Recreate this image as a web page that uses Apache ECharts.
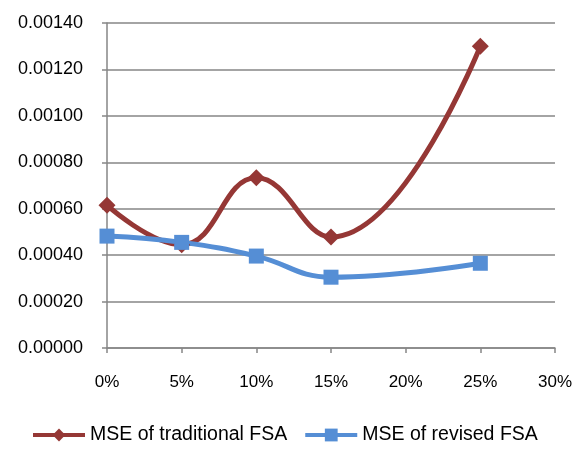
<!DOCTYPE html>
<html>
<head>
<meta charset="utf-8">
<script src="https://cdn.jsdelivr.net/npm/echarts@6/dist/echarts.min.js"></script>
<style>
  html, body { margin: 0; padding: 0; background: #fff; }
  #chart { width: 575px; height: 454px; }
</style>
</head>
<body>
<div id="chart"></div>
<script>
const xValues = [0, 5, 10, 15, 25];
const traditionalFsa = [0.000615, 0.000445, 0.000733, 0.000478, 0.0013];
const revisedFsa = [0.000482, 0.000455, 0.000396, 0.000305, 0.000365];
const seriesNames = ['MSE of traditional FSA', 'MSE of revised FSA'];

const font = 'Liberation Sans, Arial, sans-serif';
const axisGrey = '#868686';

const chart = echarts.init(document.getElementById('chart'));
chart.setOption({
    animation: false,
    grid: { left: 107, top: 23, right: 18, bottom: 106 },
    xAxis: {
        type: 'value',
        min: 0, max: 30, interval: 5,
        axisLine: { lineStyle: { color: axisGrey, width: 1.5 } },
        axisTick: { show: true, length: 5, lineStyle: { color: axisGrey, width: 1.5 } },
        splitLine: { show: false },
        axisLabel: { color: '#000', fontFamily: font, fontSize: 17, margin: 26, formatter: v => v + '%' }
    },
    yAxis: {
        type: 'value',
        min: 0, max: 0.0014, interval: 0.0002,
        axisLine: { show: true, lineStyle: { color: axisGrey, width: 1.5 } },
        axisTick: { show: true, length: 5, lineStyle: { color: axisGrey, width: 1.5 } },
        splitLine: { lineStyle: { color: axisGrey, width: 1.5 } },
        axisLabel: { color: '#000', fontFamily: font, fontSize: 18, margin: 24, formatter: v => v.toFixed(5) }
    },
    legend: {
        left: 26, bottom: 4,
        itemWidth: 52, itemHeight: 16, itemGap: 16,
        lineStyle: { width: 4 },
        textStyle: { color: '#000', fontFamily: font, fontSize: 19.5 },
        data: seriesNames
    },
    series: [
        {
            name: seriesNames[0],
            type: 'line',
            smooth: 0.45,
            symbol: 'diamond',
            symbolSize: 17,
            data: xValues.map((x, i) => [x, traditionalFsa[i]]),
            lineStyle: { color: '#953735', width: 5 },
            itemStyle: { color: '#953735' }
        },
        {
            name: seriesNames[1],
            type: 'line',
            smooth: 0.45,
            symbol: 'rect',
            symbolSize: 15,
            data: xValues.map((x, i) => [x, revisedFsa[i]]),
            lineStyle: { color: '#558ED5', width: 5 },
            itemStyle: { color: '#558ED5' }
        }
    ]
});
</script>
</body>
</html>
